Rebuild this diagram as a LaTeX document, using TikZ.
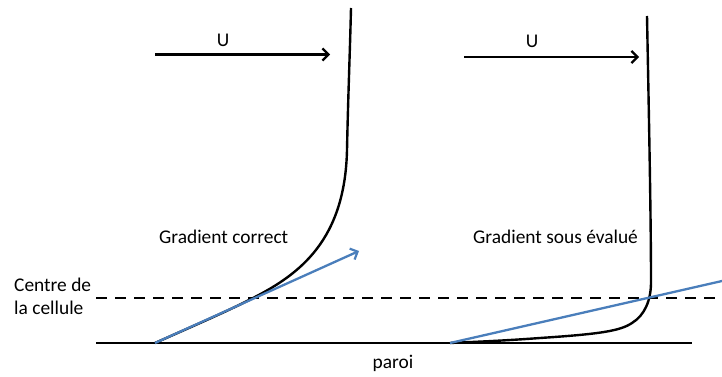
\documentclass[tikz,border=0pt]{standalone}
\usepackage{fontspec}
\setmainfont{Carlito}
\usetikzlibrary{arrows.meta}
\definecolor{pptblue}{RGB}{74,126,187}
\tikzset{
  lbl/.style={font=\fontsize{19.4}{22}\selectfont, inner sep=0pt, anchor=base west},
  blk/.style={line width=2.4pt, black},
  tip/.style={-{Straight Barb[length=6pt,width=12pt,line width=2.2pt]}},
  flow/.style={line width=2.4pt, tip},
  grad/.style={line width=2.3pt, pptblue},
  curve/.style={line width=2.4pt, black, line join=round},
  dashline/.style={line width=2.2pt, dash pattern=on 11pt off 8pt}
}
\begin{document}
\begin{tikzpicture}[x=1pt,y=-1pt]
\useasboundingbox (0,0) rectangle (722,377);
% coordinates
\coordinate (wallL) at (96,343);
\coordinate (wallR) at (692,343);
\coordinate (dashL) at (96,298);
\coordinate (dashR) at (722,298);
\coordinate (a1s) at (155,54.5);
\coordinate (a1e) at (330,54.5);
\coordinate (a2s) at (464,57);
\coordinate (a2e) at (639,57);
\coordinate (g1s) at (155,343);
\coordinate (g1e) at (359,251);
\coordinate (g2s) at (450,343);
\coordinate (g2e) at (722,281);
% texts
\node[lbl] (centre) at (14,291) {Centre de};
\node[lbl] (cellule) at (14,314) {la cellule};
\node[lbl] (gc) at (159,243) {Gradient correct};
\node[lbl] (gs) at (473,243) {Gradient sous évalué};
\node[lbl, anchor=base] (u1) at (223,47) {U};
\node[lbl, anchor=base] (u2) at (532,48) {U};
\node[lbl, anchor=base] (paroi) at (393,368) {paroi};
% wall and dashed line
\draw[blk] (wallL) -- (wallR);
\draw[dashline] (dashL) -- (dashR);
% flow arrows
\draw[flow] (a1s) -- (a1e);
\draw[flow] (a2s) -- (a2e);
% profiles
\draw[curve] (155,343) .. controls (200,323) and (230,310) .. (253,298)
  .. controls (300,274) and (345,240) .. (347,150)
  .. controls (348,100) and (350,50) .. (351,8);
\draw[curve] (647,16) .. controls (649,120) and (651,220) .. (651,282)
  .. controls (651,300) and (645,315) .. (632,323)
  .. controls (620,331) and (600,334) .. (540,338)
  .. controls (500,341) and (470,342) .. (450,343);
% gradients
\draw[grad, tip] (g1s) -- (g1e);
\draw[grad] (g2s) -- (g2e);
\end{tikzpicture}
\end{document}
